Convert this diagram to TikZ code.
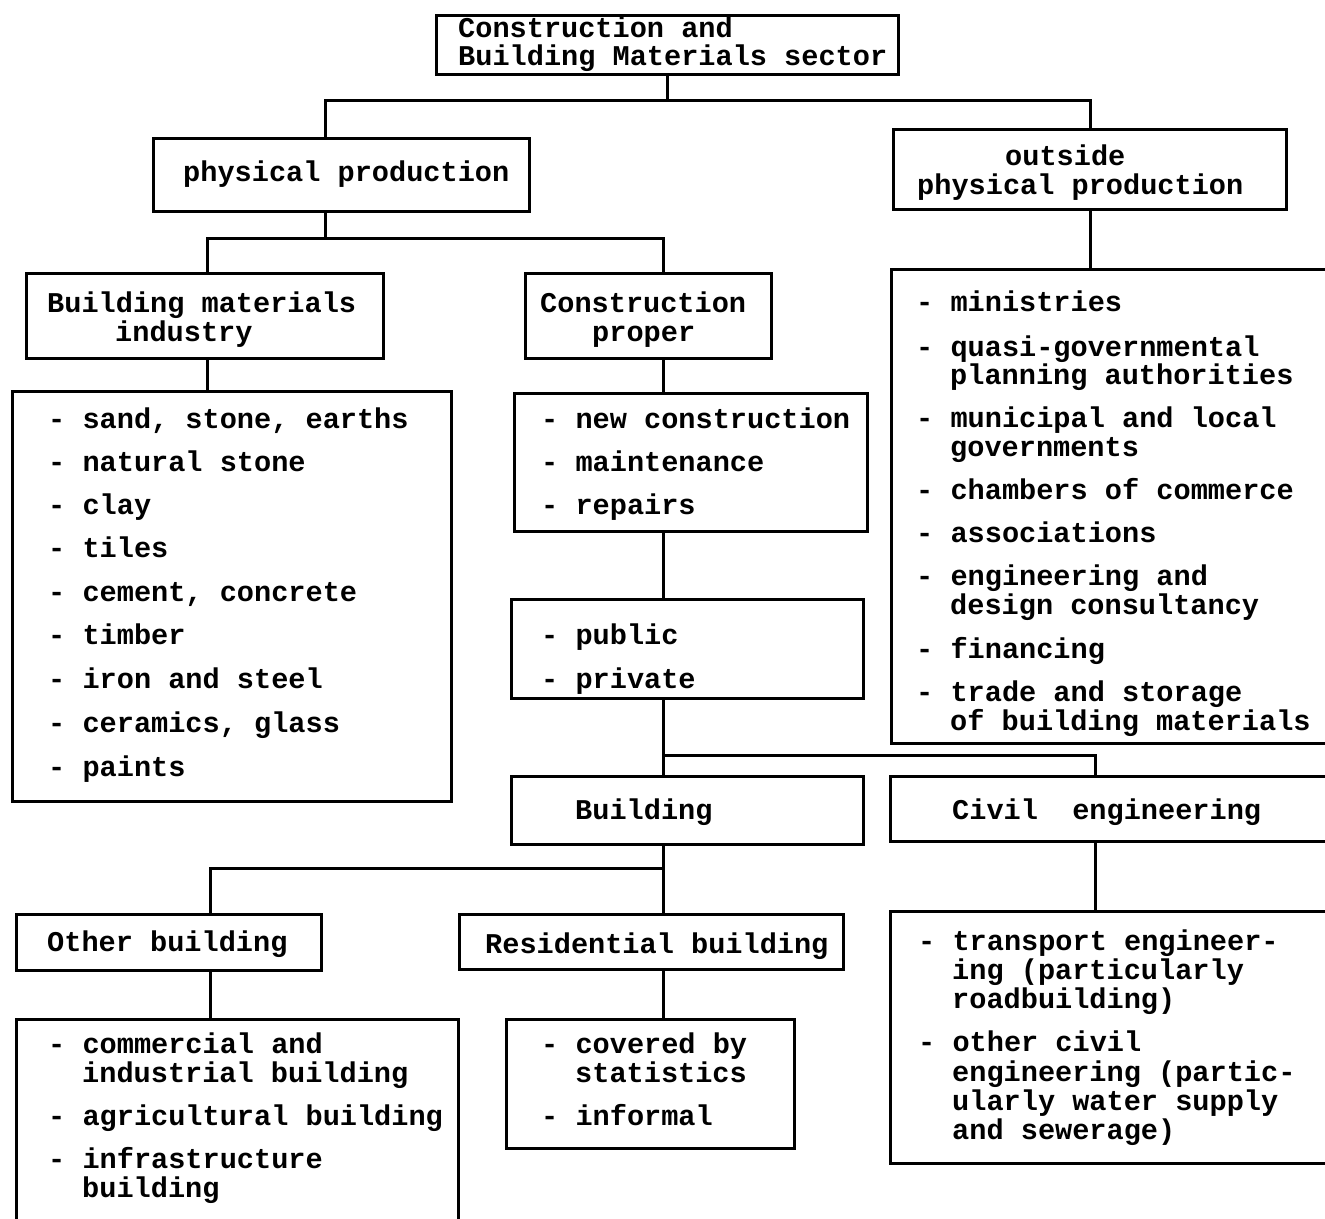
\documentclass[tikz,border=0pt]{standalone}
\usepackage{fontspec}
\newfontfamily\tw{Liberation Mono}
\tikzset{
  box/.style={draw=black, line width=3pt, rectangle, inner sep=0pt, anchor=north west},
  conn/.style={draw=black, line width=3pt},
  txt/.style={anchor=base west, inner sep=0pt, font=\tw\bfseries\fontsize{28.6}{30}\selectfont, text=black}
}
\newcommand\tline[4]{\node[txt] (#1) at (#2,#3) {#4};}
\newcommand\mybox[6]{\node[box, minimum width=#4pt, minimum height=#5pt] (#1) at (#2,#3) {};}
\begin{document}
\begin{tikzpicture}[x=1pt,y=-1pt]
\useasboundingbox (0,0) rectangle (1325,1218);
\fill[white] (0,0) rectangle (1325,1218);
\clip (0,0) rectangle (1325,1218);
% boxes: name, left, top, width, height
\mybox{top}{435}{14}{462}{59}{}
\mybox{pp}{152}{137}{376}{73}{}
\mybox{opp}{892}{128}{393}{80}{}
\mybox{bmi}{25}{272}{357}{85}{}
\mybox{cp}{524}{272}{246}{85}{}
\mybox{opl}{890}{268}{455}{474}{}
\mybox{bmil}{11}{390}{439}{410}{}
\mybox{cpl}{513}{392}{353}{138}{}
\mybox{pub}{510}{598}{352}{99}{}
\mybox{bld}{510}{775}{352}{68}{}
\mybox{civ}{889}{775}{456}{65}{}
\mybox{oth}{15}{913}{305}{56}{}
\mybox{res}{458}{913}{384}{55}{}
\mybox{othl}{15}{1018}{442}{222}{}
\mybox{resl}{505}{1018}{288}{129}{}
\mybox{cvl}{889}{910}{456}{252}{}
% junction helpers
\coordinate (xA) at (325,0);
\coordinate (xB) at (1090,0);
\coordinate (xC) at (207,0);
\coordinate (xD) at (663,0);
\coordinate (xE) at (1095,0);
\coordinate (xF) at (210,0);
\coordinate (yA) at (0,100);
\coordinate (yC) at (0,238);
\coordinate (yG) at (0,755);
\coordinate (yH) at (0,868);
% connectors
\draw[conn] (top.south) -- (top.south |- yA);
\draw[conn] (pp.north -| xA) -- (xA |- yA) -- (xB |- yA) -- (opp.north -| xB);
\draw[conn] (pp.south -| xA) -- (xA |- yC);
\draw[conn] (bmi.north -| xC) -- (xC |- yC) -- (xD |- yC) -- (cp.north -| xD);
\draw[conn] (bmi.south -| xC) -- (bmil.north -| xC);
\draw[conn] (cp.south -| xD) -- (cpl.north -| xD);
\draw[conn] (cpl.south -| xD) -- (pub.north -| xD);
\draw[conn] (pub.south -| xD) -- (bld.north -| xD);
\draw[conn] (xD |- yG) -- (xE |- yG) -- (civ.north -| xE);
\draw[conn] (opp.south -| xB) -- (opl.north -| xB);
\draw[conn] (civ.south -| xE) -- (cvl.north -| xE);
\draw[conn] (bld.south -| xD) -- (xD |- yH);
\draw[conn] (oth.north -| xF) -- (xF |- yH) -- (xD |- yH) -- (res.north -| xD);
\draw[conn] (oth.south -| xF) -- (othl.north -| xF);
\draw[conn] (res.south -| xD) -- (resl.north -| xD);
% texts
\tline{t1}{458}{37}{Construction and}
\tline{t2}{458}{65}{Building Materials sector}
\tline{t3}{183}{181}{physical production}
\tline{t4}{1005}{165}{outside}
\tline{t5}{917}{194}{physical production}
\tline{t6}{47}{312}{Building materials}
\tline{t7}{115}{341}{industry}
\tline{t8}{540}{312}{Construction}
\tline{t9}{592}{341}{proper}
% outside list
\tline{o1}{916}{311}{- ministries}
\tline{o2}{916}{356}{- quasi-governmental}
\tline{o3}{950}{384}{planning authorities}
\tline{o4}{916}{427}{- municipal and local}
\tline{o5}{950}{456}{governments}
\tline{o6}{916}{499}{- chambers of commerce}
\tline{o7}{916}{542}{- associations}
\tline{o8}{916}{585}{- engineering and}
\tline{o9}{950}{614}{design consultancy}
\tline{o10}{916}{658}{- financing}
\tline{o11}{916}{701}{- trade and storage}
\tline{o12}{950}{730}{of building materials}
% building materials list
\tline{b1}{48}{428}{- sand, stone, earths}
\tline{b2}{48}{471}{- natural stone}
\tline{b3}{48}{514}{- clay}
\tline{b4}{48}{557}{- tiles}
\tline{b5}{48}{601}{- cement, concrete}
\tline{b6}{48}{644}{- timber}
\tline{b7}{48}{688}{- iron and steel}
\tline{b8}{48}{732}{- ceramics, glass}
\tline{b9}{48}{776}{- paints}
% construction proper list
\tline{c1}{541}{428}{- new construction}
\tline{c2}{541}{471}{- maintenance}
\tline{c3}{541}{514}{- repairs}
\tline{p1}{541}{644}{- public}
\tline{p2}{541}{688}{- private}
\tline{t10}{575}{819}{Building}
\tline{t11}{952}{819}{Civil\ \ engineering}
\tline{t12}{47}{951}{Other building}
\tline{t13}{485}{953}{Residential building}
% other building list
\tline{ob1}{48}{1053}{- commercial and}
\tline{ob2}{82}{1082}{industrial building}
\tline{ob3}{48}{1125}{- agricultural building}
\tline{ob4}{48}{1168}{- infrastructure}
\tline{ob5}{82}{1197}{building}
% residential list
\tline{r1}{541}{1053}{- covered by}
\tline{r2}{575}{1082}{statistics}
\tline{r3}{541}{1125}{- informal}
% civil list
\tline{v1}{918}{950}{- transport engineer-}
\tline{v2}{952}{979}{ing (particularly}
\tline{v3}{952}{1008}{roadbuilding)}
\tline{v4}{918}{1051}{- other civil}
\tline{v5}{952}{1081}{engineering (partic-}
\tline{v6}{952}{1110}{ularly water supply}
\tline{v7}{952}{1139}{and sewerage)}
\end{tikzpicture}
\end{document}
